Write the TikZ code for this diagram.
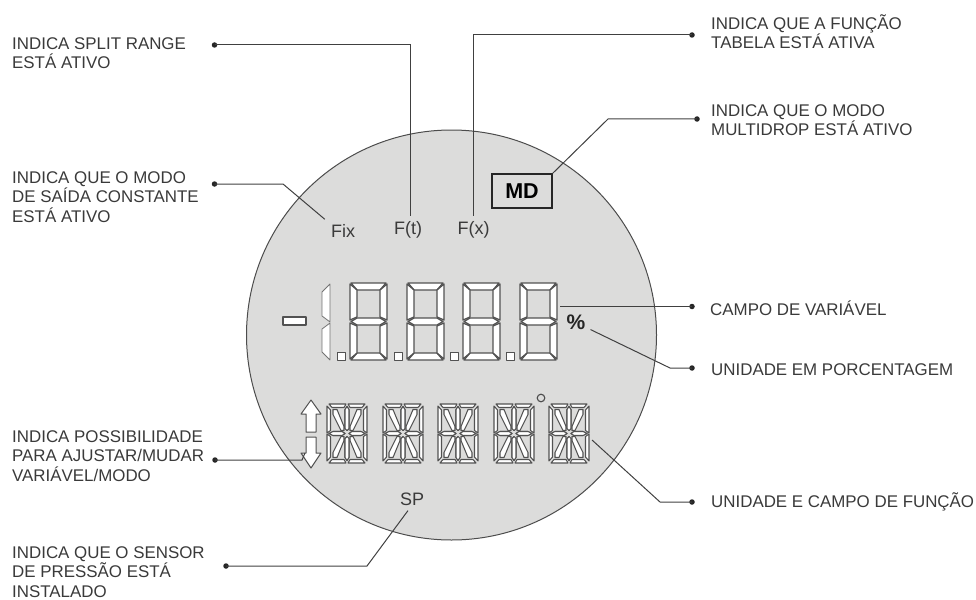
\documentclass[tikz,border=0pt]{standalone}
\usepackage{fontspec}
\setmainfont{Liberation Sans}
\usepackage{tikz}
\usetikzlibrary{arrows.meta}
\definecolor{discgray}{HTML}{DCDCDB}
\definecolor{inkgray}{HTML}{3A3A3A}
\tikzset{
  lbl/.style={anchor=west,align=left,inner sep=0pt,text=inkgray,font=\fontsize{16.9}{19.2}\selectfont},
  symb/.style={inner sep=0pt,text=inkgray,font=\fontsize{18}{20}\selectfont},
  blob/.style={circle,fill=black!85,inner sep=0pt,minimum size=5.5pt},
  leader/.style={draw=black!75,line width=1pt},
  seg/.style={draw=black!68,fill=white,line width=1.3pt,line join=round},
  fineseg/.style={seg,line width=1.05pt},
  sevenseg/.pic={
    \draw[seg] (1,0) -- (36,0) -- (30,7) -- (7,7) -- cycle;
    \draw[seg] (1,77) -- (36,77) -- (30,70) -- (7,70) -- cycle;
    \draw[seg] (1,38.5) -- (7,35) -- (30,35) -- (36,38.5) -- (30,42) -- (7,42) -- cycle;
    \draw[seg] (0,1) -- (7,7) -- (7,34) -- (0,37) -- cycle;
    \draw[seg] (0,76) -- (7,70) -- (7,43) -- (0,40) -- cycle;
    \draw[seg] (37,1) -- (30,7) -- (30,34) -- (37,37) -- cycle;
    \draw[seg] (37,76) -- (30,70) -- (30,43) -- (37,40) -- cycle;
  },
  starseg/.pic={
    \foreach \sx/\sy in {1/1,-1/1,1/-1,-1/-1}{
      \begin{scope}[shift={(20,29.5)},xscale=\sx,yscale=\sy]
        \draw[fineseg] (-18,-29.5) -- (-1,-29.5) -- (-3,-26) -- (-15,-26) -- cycle;
        \draw[fineseg] (-20,-27.5) -- (-16.5,-23.5) -- (-16.5,-3) -- (-20,-0.5) -- cycle;
        \draw[fineseg] (-14,-24) -- (-10,-24) -- (-3,-7) -- (-3,-3) -- (-6,-3) -- (-14,-19) -- cycle;
        \draw[fineseg] (0,-27) -- (2,-24) -- (2,-5) -- (0,-3) -- (-2,-5) -- (-2,-24) -- cycle;
        \draw[fineseg] (-18,0) -- (-14,-2) -- (-5,-2) -- (-2,0) -- (-5,2) -- (-14,2) -- cycle;
      \end{scope}
    }
  }
}
\begin{document}
\begin{tikzpicture}[x=1pt,y=-1pt]
\useasboundingbox (0,0) rectangle (976,599);
% visor
\filldraw[fill=discgray,draw=black!70,line width=1pt] (451.5,335) circle (205);

% variable field
\node[seg,minimum width=23pt,minimum height=8pt,inner sep=0pt] (minus) at (294.5,321) {};
\draw[seg,line width=0.8pt,draw=black!55] (330,284) -- (322,292) -- (322,316) -- (330,322) -- cycle;
\draw[seg,line width=0.8pt,draw=black!55] (330,323) -- (322,329) -- (322,352) -- (330,360) -- cycle;
\foreach \dx/\px in {350/341,407/398,463/454,520/510}{
  \pic at (\dx,283) {sevenseg};
  \node[seg,line width=1pt,minimum size=8pt,inner sep=0pt] at (\px,356.5) {};
}

% function field
\foreach \dx in {327,383,438,494,549}{
  \pic at (\dx,404) {starseg};
}
\draw[draw=black!70,line width=1.1pt] (541,398) circle (3.8);
\draw[seg,line width=1pt] (311,400) -- (321,414) -- (316,414) -- (316,432) -- (306,432) -- (306,414) -- (301,414) -- cycle;
\draw[seg,line width=1pt] (311,468) -- (321,453) -- (316,453) -- (316,437) -- (306,437) -- (306,453) -- (301,453) -- cycle;

% symbols
\node[symb] (fix) at (343,231) {Fix};
\node[symb] (ft) at (408,230) {F(t)};
\node[symb] (fx) at (473.5,230) {F(x)};
\node[symb] (sp) at (412,499) {SP};
\node[symb,draw=black!85,line width=1.3pt,minimum width=60pt,minimum height=34pt,font=\fontsize{21.5}{22}\selectfont\bfseries,text=black] (md) at (522,191) {MD};
\node[symb,font=\fontsize{21}{22}\selectfont\bfseries,text=black!85] (pct) at (576,322) {\%};

% labels
\node[lbl] (lsplit) at (12,53.5) {INDICA SPLIT RANGE\\ESTÁ ATIVO};
\node[lbl] (lfix) at (12,197) {INDICA QUE O MODO\\DE SAÍDA CONSTANTE\\ESTÁ ATIVO};
\node[lbl] (ladj) at (12,456) {INDICA POSSIBILIDADE\\PARA AJUSTAR/MUDAR\\VARIÁVEL/MODO};
\node[lbl] (lsensor) at (12,572) {INDICA QUE O SENSOR\\DE PRESSÃO ESTÁ\\INSTALADO};
\node[lbl] (ltable) at (711,31.5) {INDICA QUE A FUNÇÃO\\TABELA ESTÁ ATIVA};
\node[lbl] (lmulti) at (711,120.5) {INDICA QUE O MODO\\MULTIDROP ESTÁ ATIVO};
\node[lbl] (lvar) at (710,308) {CAMPO DE VARIÁVEL};
\node[lbl] (lpct) at (711,370) {UNIDADE EM PORCENTAGEM};
\node[lbl] (lfunc) at (711,502) {UNIDADE E CAMPO DE FUNÇÃO};

% blobs
\node[blob] (bsplit) at (214.5,45) {};
\node[blob] (bfix) at (214.5,184) {};
\node[blob] (badj) at (215,460) {};
\node[blob] (bsensor) at (226,566) {};
\node[blob] (btable) at (692,35) {};
\node[blob] (bmulti) at (697,119) {};
\node[blob] (bvar) at (692,306.5) {};
\node[blob] (bpct) at (692,368) {};
\node[blob] (bfunc) at (692,502) {};

% free ends
\coordinate (earrow) at (305,453);
\coordinate (edigit) at (560,306.5);
\coordinate (estar) at (592,440);

% leaders
\draw[leader] (bsplit.center) -| ([shift={(2.5,-5)}]ft.north);
\draw[leader] (btable.center) -| ([shift={(-0.5,-5)}]fx.north);
\draw[leader] (bfix.center) -- (283,184) -- ([shift={(-6,-5)}]fix.north west);
\draw[leader] (bmulti.center) -- (608,119) -- (md.north east);
\draw[leader] (badj.center) -- (302,460) -- (earrow);
\draw[leader] (bsensor.center) -- (367,566) -- ([shift={(-4,5)}]sp.south);
\draw[leader] (bvar.center) -- (edigit);
\draw[leader] (bpct.center) -- (670,368) -- ([shift={(5,0)}]pct.south east);
\draw[leader] (bfunc.center) -- (660,502) -- (estar);
\end{tikzpicture}
\end{document}
